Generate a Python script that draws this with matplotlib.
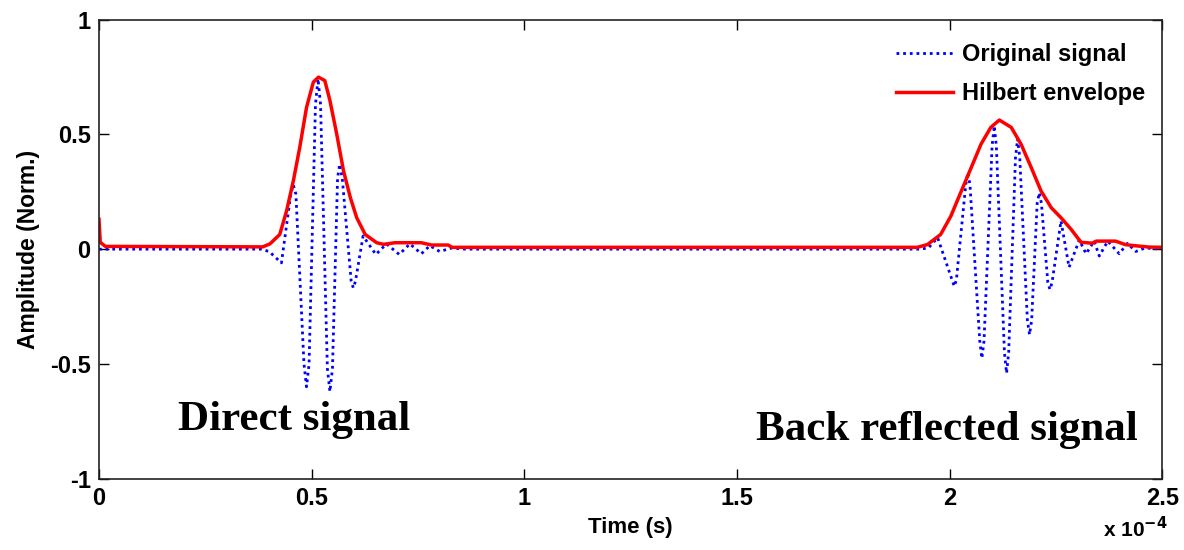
import numpy as np
import matplotlib
matplotlib.use("Agg")
import matplotlib.pyplot as plt

# Time values in units of 1e-5 s, amplitudes normalised
sig_t = [0.0, 3.8, 4.0, 4.29,
         4.51, 4.57, 4.63, 4.82, 4.88, 4.94, 5.09, 5.15, 5.21, 5.37, 5.43, 5.49,
         5.61, 5.66, 5.72, 5.93, 5.98, 6.03, 6.21, 6.51, 6.76,
         7.06, 7.31, 7.58, 7.78, 8.01, 8.3, 8.6,
         19.3, 19.5, 19.72,
         20.06, 20.11, 20.16, 20.38, 20.43, 20.48, 20.71, 20.76, 20.81,
         21.0, 21.05, 21.1, 21.29, 21.34, 21.39, 21.55, 21.60, 21.65,
         21.83, 21.88, 21.93, 22.06, 22.11, 22.16, 22.31, 22.36, 22.41,
         22.62, 22.81, 23.05, 23.21, 23.40, 23.52, 23.72, 23.99, 24.18, 24.38,
         24.6, 25.0]
sig_a = [0.0, 0.0, -0.01, -0.06,
         0.24, 0.28, 0.24, -0.50, -0.60, -0.50, 0.63, 0.743, 0.63, -0.52, -0.621, -0.52,
         0.31, 0.371, 0.31, -0.14, -0.169, -0.14, 0.057, -0.023, 0.023,
         -0.023, 0.023, -0.02, 0.015, -0.01, 0.005, 0.0,
         0.0, 0.005, 0.05,
         -0.135, -0.162, -0.135, 0.28, 0.334, 0.28, -0.40, -0.476, -0.40,
         0.45, 0.538, 0.45, -0.45, -0.541, -0.45, 0.40, 0.48, 0.40,
         -0.31, -0.373, -0.31, 0.20, 0.246, 0.20, -0.145, -0.176, -0.145,
         0.123, -0.079, 0.04, -0.02, 0.035, -0.03, 0.035, -0.02, 0.025, -0.01,
         0.005, 0.0]

env_t = [0.0, 0.03, 0.15, 3.85, 4.02, 4.25, 4.41, 4.57, 4.72, 4.88, 5.04, 5.16, 5.31, 5.43,
         5.59, 5.75, 5.91, 6.06, 6.26, 6.53, 6.69, 6.96, 7.58, 7.82, 8.21, 8.3,
         19.24, 19.48, 19.79, 20.03, 20.26, 20.46, 20.74, 20.97, 21.17, 21.45, 21.68,
         21.92, 22.15, 22.39, 22.62, 22.86, 23.09, 23.35, 23.45, 23.9, 24.13, 24.3,
         24.7, 25.0]
env_a = [0.13, 0.03, 0.012, 0.01, 0.023, 0.064, 0.166, 0.298, 0.443, 0.618, 0.728, 0.75, 0.735,
         0.648, 0.502, 0.341, 0.225, 0.137, 0.064, 0.028, 0.021, 0.028, 0.028, 0.018, 0.018, 0.008,
         0.008, 0.02, 0.064, 0.144, 0.246, 0.334, 0.458, 0.531, 0.563, 0.531, 0.458,
         0.356, 0.254, 0.181, 0.137, 0.086, 0.03, 0.026, 0.035, 0.035, 0.02, 0.016,
         0.009, 0.008]

xticks = [0, 0.5, 1, 1.5, 2, 2.5]
xtick_labels = ["0", "0.5", "1", "1.5", "2", "2.5"]
yticks = [-1, -0.5, 0, 0.5, 1]
ytick_labels = ["-1", "-0.5", "0", "0.5", "1"]

scale = 1e-5
t_sig = np.array(sig_t) * scale
t_env = np.array(env_t) * scale

plt.rcParams['font.family'] = ['Liberation Sans', 'DejaVu Sans']
fig = plt.figure(figsize=(11.84, 5.5), dpi=100)
ax = fig.add_axes([0.0836, 0.13, 0.898, 0.834])

ax.plot(t_sig, sig_a, linestyle=(0, (1, 1.4)), color='#0000ff', linewidth=2.0,
        label='Original signal')
ax.plot(t_env, env_a, linestyle='-', color='#ff0000', linewidth=2.5, label='Hilbert envelope')

ax.set_xlim(0, 2.5e-4)
ax.set_ylim(-1, 1)
ax.set_xticks([v * 1e-4 for v in xticks])
ax.set_xticklabels(xtick_labels, fontsize=17, fontweight='bold')
ax.set_yticks(yticks)
ax.set_yticklabels(ytick_labels, fontsize=17, fontweight='bold')
ax.tick_params(direction='in', length=7, width=1, top=True, right=True, pad=6)
for s in ax.spines.values():
    s.set_linewidth(1.2)
    s.set_color('#222222')

ax.set_xlabel('Time (s)', fontsize=16, fontweight='bold', labelpad=5)
ax.set_ylabel('Amplitude (Norm.)', fontsize=16.5, fontweight='bold', labelpad=7)

leg = ax.legend(loc='upper right', bbox_to_anchor=(0.993, 0.970), frameon=False,
                handlelength=2.4, handletextpad=0.4, borderaxespad=0.0, borderpad=0.4,
                prop={'weight': 'bold', 'size': 17}, labelspacing=0.68)

fig.text(1103 / 1184, 13 / 550, r'x 10$^{\mathbf{-4}}$', fontsize=15, fontweight='bold',
         va='baseline', ha='left')

ax.text(1.86e-5, -0.744, 'Direct signal', family='Liberation Serif', fontweight='bold',
        fontsize=31, ha='left', va='center')
ax.text(15.44e-5, -0.788, 'Back reflected signal', family='Liberation Serif', fontweight='bold',
        fontsize=31, ha='left', va='center')

fig.savefig('out.png', dpi=100)
